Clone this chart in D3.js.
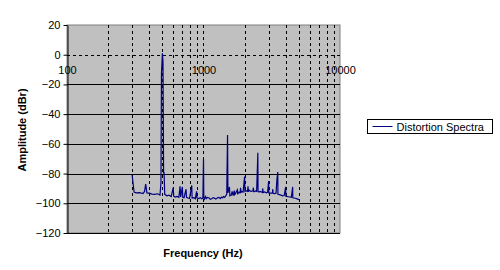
<!DOCTYPE html>
<html>
<head>
<meta charset="utf-8">
<script src="https://cdn.jsdelivr.net/npm/d3@7"></script>
<style>
  body { margin: 0; background: #fff; }
  text { font-family: "Liberation Sans", Arial, sans-serif; }
</style>
</head>
<body>
<svg width="500" height="270"></svg>
<script>
// spectrum (Hz, dBr)
const freqs = [300, 310, 320, 340, 360, 370, 377, 385, 400, 420, 440, 460, 480, 488, 492, 500, 505, 510, 514, 520,
  540, 560, 580, 600, 605, 620, 640, 660, 673, 680, 700, 705, 720, 745, 750, 770, 790, 820, 825, 850,
  870, 890, 895, 920, 950, 970, 990, 1000, 1005, 1020, 1035, 1050, 1070, 1100, 1120, 1150, 1175, 1200, 1230, 1250,
  1280, 1300, 1330, 1350, 1380, 1400, 1430, 1450, 1480,
  1500, 1510, 1550, 1560, 1600, 1620, 1650, 1680, 1690, 1700, 1770, 1780, 1800, 1850, 1870, 1880, 1900, 1950, 2000, 2010,
  2050, 2100, 2120, 2130, 2150, 2200, 2250, 2300, 2320, 2330, 2350, 2400, 2450, 2490, 2500, 2510, 2550, 2600, 2700, 2720,
  2730, 2800, 2900, 2950, 3000, 3010, 3100, 3200, 3220, 3230, 3300, 3400, 3450, 3500, 3510, 3600, 3700, 3800, 3900, 4000,
  4010, 4200, 4400, 4500, 4510, 4700, 4850, 5000]
const amps = [-81, -92.5, -93, -92.8, -93.5, -92, -87, -93, -93.2, -93.8, -94, -93.6, -94.5, -86, -13, 1, -5, -80, -79, -94,
  -95, -94.6, -95.5, -89.5, -95.2, -95.8, -95.4, -96, -88.6, -95.7, -89, -96, -96.3, -90.5, -96, -96.4, -96.8, -88, -96.5, -96.2,
  -97, -92, -96.4, -96.8, -96.2, -97, -96.5, -70, -96, -97.2, -95.5, -96.8, -96, -96.4, -97.3, -97, -96.2, -96.5, -97.1, -96.8,
  -96, -96.2, -96.9, -95.8, -96.4, -95.5, -96, -95.2, -94,
  -54, -93, -89, -95, -94.5, -92, -94.8, -91.5, -94.2, -94, -91, -94, -92.5, -93, -89.6, -93, -92, -92.5, -82, -92,
  -91.5, -92, -88.5, -92.3, -91, -91.8, -92, -91.5, -89.5, -92, -92.2, -91.7, -92, -72, -66, -92, -92.4, -92, -92.6, -90,
  -92.8, -92.3, -93, -92.5, -85, -93, -93.2, -93, -90.5, -93.3, -93.5, -93.2, -84, -79, -94, -94.2, -94.5, -95, -94.8, -89,
  -95.2, -95.6, -96, -89, -96.3, -96.6, -97, -97.5]
const yTicks = [20, 0, -20, -40, -60, -80, -100, -120]
const xLabels = [100, 1000, 10000]
const xGrid = [200, 300, 400, 500, 600, 700, 800, 900, 1000, 2000, 3000, 4000, 5000, 6000, 7000, 8000, 9000]
const seriesName = "Distortion Spectra"

const svg = d3.select("svg")
const plotLeft = 67, plotRight = 340, plotTop = 25, plotBottom = 233

const x = d3.scaleLog().domain([100, 10000]).range([plotLeft, plotRight])
const y = d3.scaleLinear().domain([-120, 20]).range([plotBottom, plotTop])

// plot area
svg.append("rect")
  .attr("x", plotLeft).attr("y", plotTop)
  .attr("width", plotRight - plotLeft).attr("height", plotBottom - plotTop)
  .attr("fill", "#c0c0c0")
  .attr("stroke", "#808080")

// vertical dashed grid
svg.append("g").selectAll("line")
  .data(xGrid)
  .enter().append("line")
  .attr("x1", d => Math.round(x(d)) + 0.5).attr("x2", d => Math.round(x(d)) + 0.5)
  .attr("y1", plotTop).attr("y2", plotBottom)
  .attr("stroke", "#000")
  .attr("stroke-dasharray", "3,3")

// horizontal grid: solid except the zero line which is dashed
svg.append("g").selectAll("line")
  .data(yTicks.filter(d => d < 20))
  .enter().append("line")
  .attr("x1", plotLeft).attr("x2", plotRight)
  .attr("y1", d => Math.round(y(d)) + 0.5).attr("y2", d => Math.round(y(d)) + 0.5)
  .attr("stroke", "#000")
  .attr("stroke-dasharray", d => d === 0 ? "3,3" : null)

// y axis
const yAxis = svg.append("g")
  .attr("transform", "translate(" + (plotLeft + 0.5) + ",0)")
  .call(d3.axisLeft(y).tickValues(yTicks).tickSize(4).tickPadding(3).tickSizeOuter(0))
yAxis.selectAll("text").attr("font-size", 11).attr("font-family", "Liberation Sans, Arial").attr("fill", "#000")

// x labels sit under the zero line
const xAxis = svg.append("g")
  .attr("transform", "translate(0," + y(0) + ")")
  .call(d3.axisBottom(x).tickValues(xLabels).tickFormat(d3.format("d")).tickSize(0).tickPadding(11))
xAxis.select(".domain").remove()
xAxis.selectAll("text").attr("font-size", 11).attr("font-family", "Liberation Sans, Arial").attr("fill", "#000")

// series
const line = d3.line()
  .x((d, i) => x(freqs[i]))
  .y(d => y(d))
svg.append("path")
  .datum(amps)
  .attr("d", line)
  .attr("fill", "none")
  .attr("stroke", "#000080")
  .attr("stroke-width", 1.2)

// titles
svg.append("text")
  .attr("x", 203).attr("y", 257)
  .attr("text-anchor", "middle")
  .attr("font-size", 11).attr("font-weight", "bold")
  .text("Frequency (Hz)")
svg.append("text")
  .attr("transform", "translate(26,130) rotate(-90)")
  .attr("text-anchor", "middle")
  .attr("font-size", 11).attr("font-weight", "bold")
  .text("Amplitude (dBr)")

// legend
const legend = svg.append("g").attr("transform", "translate(367.5,119.5)")
legend.append("rect").attr("width", 125).attr("height", 14).attr("fill", "#fff").attr("stroke", "#000")
legend.append("line").attr("x1", 5).attr("x2", 25).attr("y1", 7).attr("y2", 7).attr("stroke", "#000080")
legend.append("text").attr("x", 29).attr("y", 11).attr("font-size", 11).text(seriesName)
</script>
</body>
</html>
